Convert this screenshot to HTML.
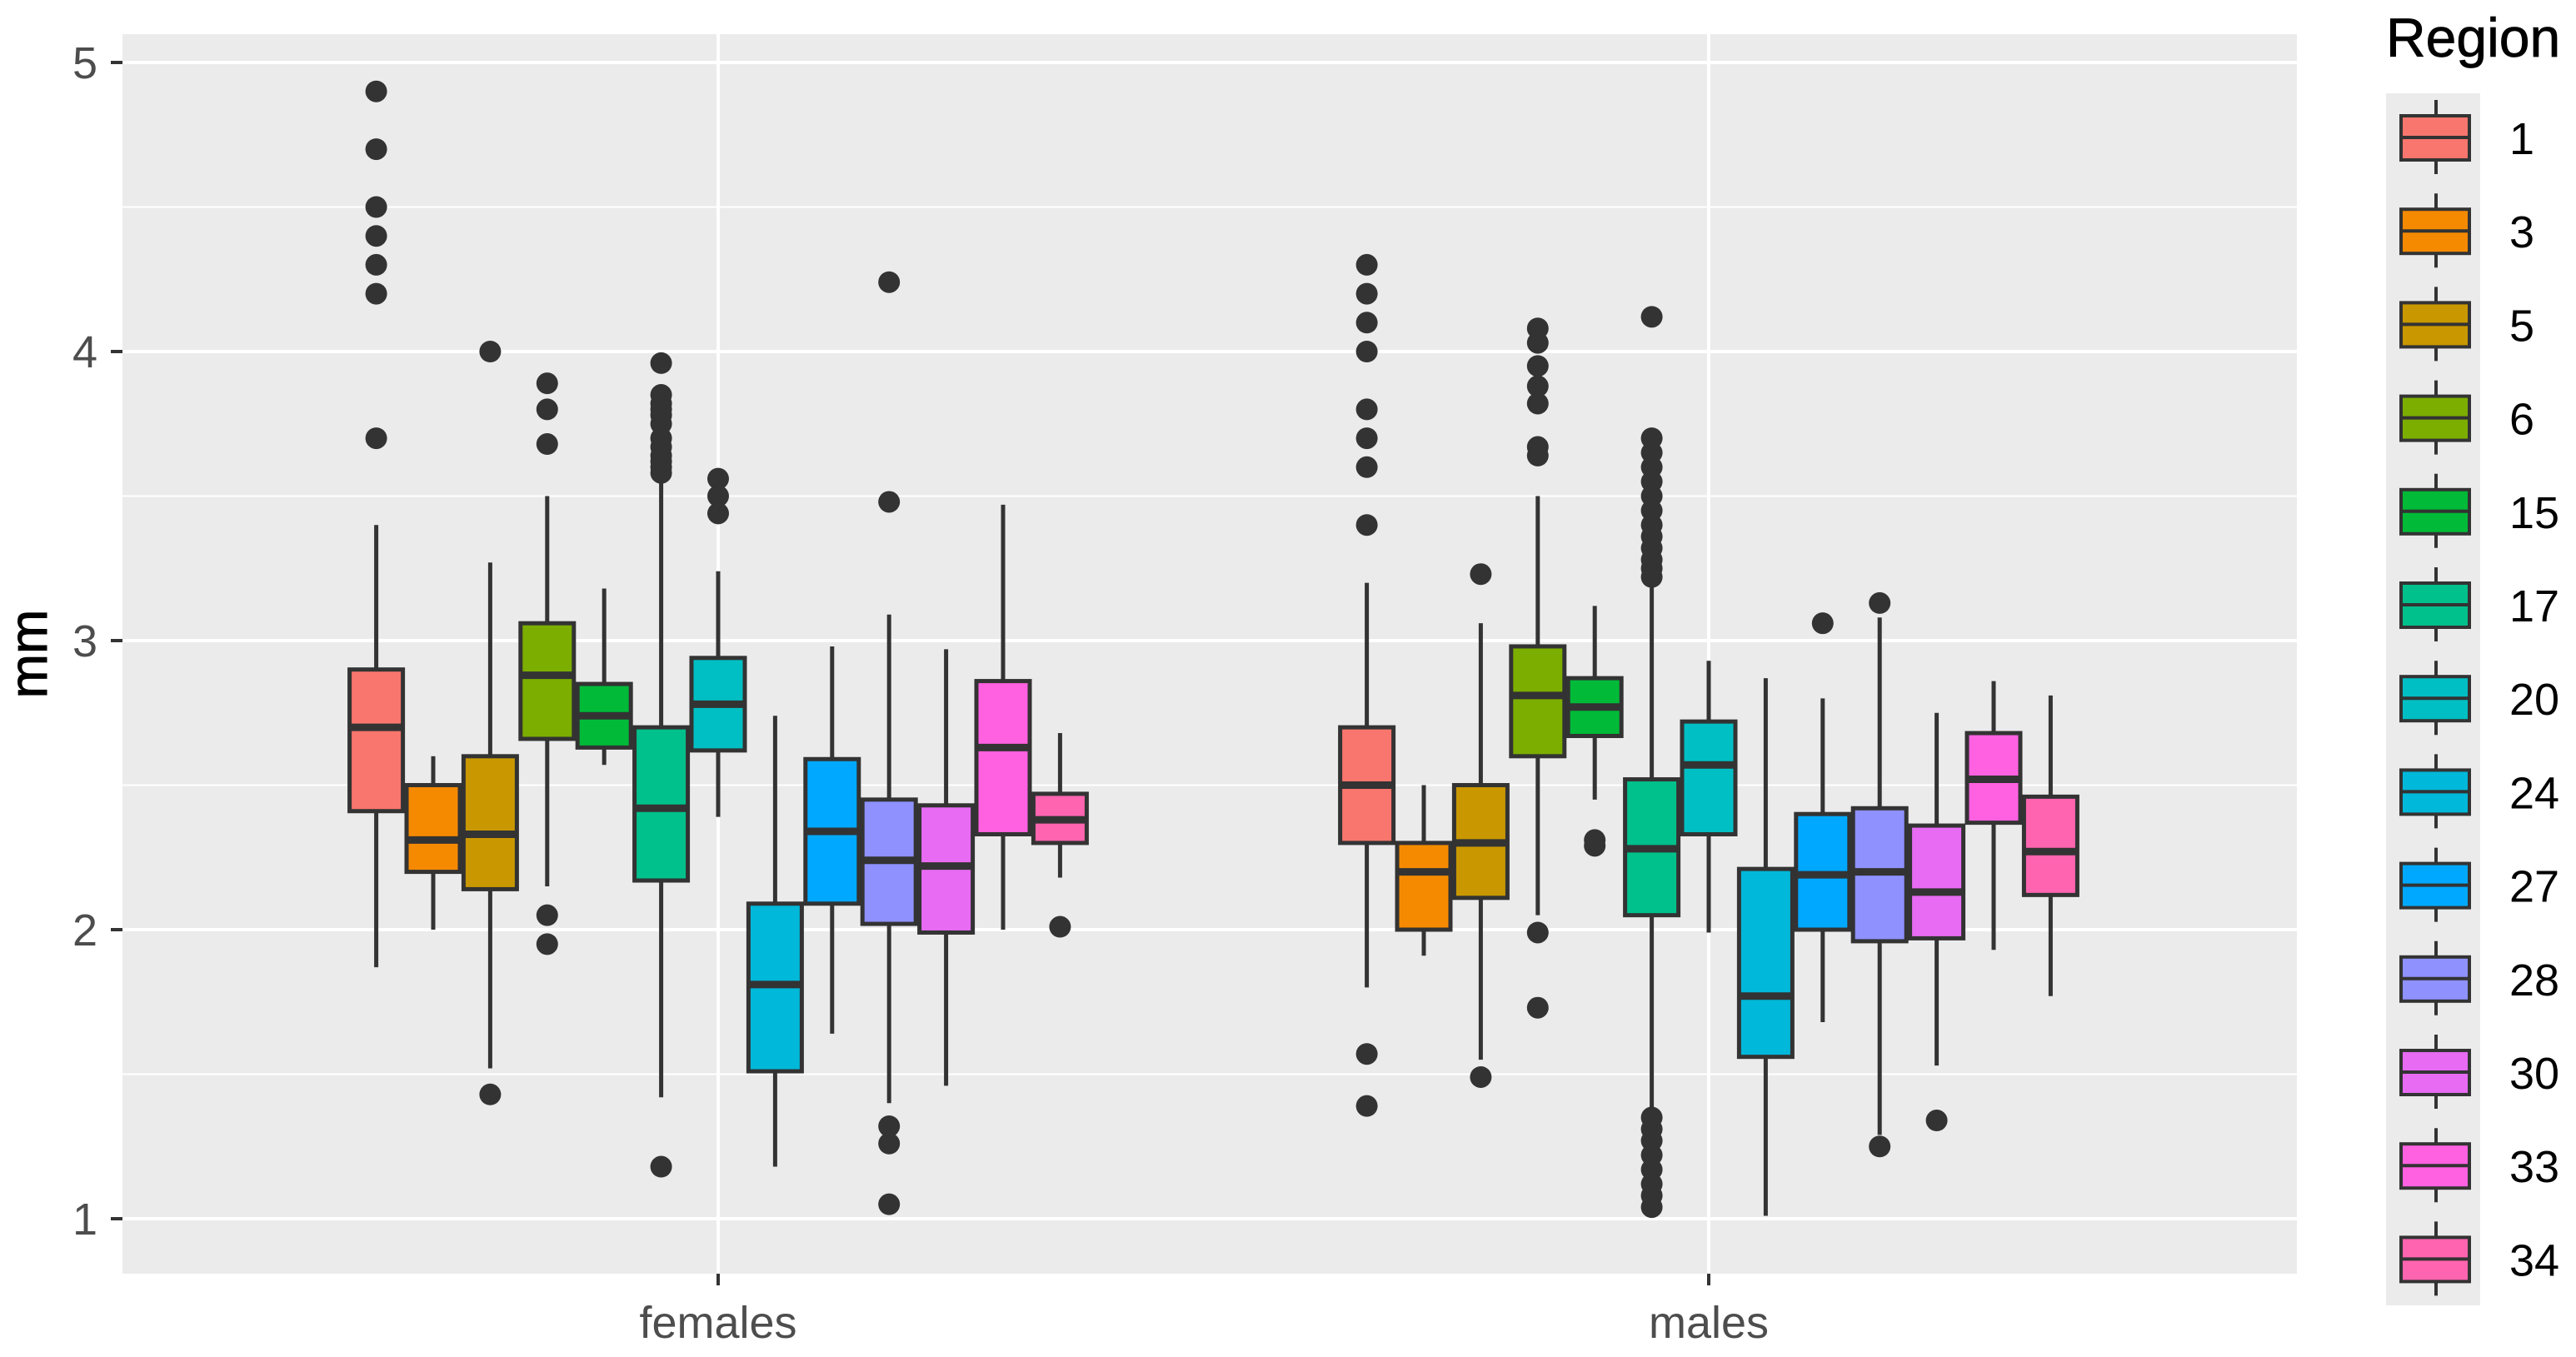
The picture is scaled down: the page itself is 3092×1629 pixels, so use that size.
<!DOCTYPE html>
<html><head><meta charset="utf-8"><style>
html,body{margin:0;padding:0;background:#fff}
svg{display:block}
text{font-family:"Liberation Sans",Arial,sans-serif}
</style></head><body>
<svg id="chart" width="3092" height="1629" viewBox="0 0 3092 1629" xmlns="http://www.w3.org/2000/svg">
<rect x="0" y="0" width="3092" height="1629" fill="#fff"/>
<rect x="147" y="41" width="2610" height="1488" fill="#EBEBEB"/>
<g id="grid"></g>
<g id="boxes"></g>
<g id="axes"></g>
<text x="56" y="785" font-size="64" fill="#000" stroke="#000" stroke-width="1" text-anchor="middle" transform="rotate(-90 56 785)">mm</text>
<text x="2864" y="68" font-size="66" fill="#000" stroke="#000" stroke-width="0.8">Region</text>
<rect x="2864" y="112" width="113" height="1455" fill="#EBEBEB"/>
<g id="legend"></g>
</svg>
<script>
const groups = ["females","males"];
const regions = ["1","3","5","6","15","17","20","24","27","28","30","33","34"];
const colors = ["#F8766D","#F58A00","#C99800","#7CAE00","#00BA38","#00C08B","#00BFC4","#00B8D9","#00A9FF","#8F91FF","#E76BF3","#FF61E0","#FF64B0"];
// [lowerWhisker, Q1, median, Q3, upperWhisker]
const femalesStats = [
 [1.87,2.41,2.70,2.90,3.40],[2.00,2.20,2.31,2.50,2.60],[1.52,2.14,2.33,2.60,3.27],
 [2.15,2.66,2.88,3.06,3.50],[2.57,2.63,2.74,2.85,3.18],[1.42,2.17,2.42,2.70,3.55],
 [2.39,2.62,2.78,2.94,3.24],[1.18,1.51,1.81,2.09,2.74],[1.64,2.09,2.34,2.59,2.98],
 [1.40,2.02,2.24,2.45,3.09],[1.46,1.99,2.22,2.43,2.97],[2.00,2.33,2.63,2.86,3.47],
 [2.18,2.30,2.38,2.47,2.68]];
const malesStats = [
 [1.80,2.30,2.50,2.70,3.20],[1.91,2.00,2.20,2.30,2.50],[1.55,2.11,2.30,2.50,3.06],
 [2.05,2.60,2.81,2.98,3.50],[2.45,2.67,2.77,2.87,3.12],[1.38,2.05,2.28,2.52,3.20],
 [1.99,2.33,2.57,2.72,2.93],[1.01,1.56,1.77,2.21,2.87],[1.68,2.00,2.19,2.40,2.80],
 [1.29,1.96,2.20,2.42,3.08],[1.53,1.97,2.13,2.36,2.75],[1.93,2.37,2.52,2.68,2.86],
 [1.77,2.12,2.27,2.46,2.81]];
const femalesOutliers = [
 [4.9,4.7,4.5,4.4,4.3,4.2,3.7],[],[4.0,1.43],[3.89,3.8,3.68,2.05,1.95],[],
 [3.96,3.85,3.82,3.80,3.78,3.75,3.70,3.67,3.64,3.62,3.60,3.58,1.18],[3.56,3.5,3.44],[],[],
 [4.24,3.48,1.32,1.26,1.05],[],[],[2.01]];
const malesOutliers = [
 [4.3,4.2,4.1,4.0,3.8,3.7,3.6,3.4,1.57,1.39],[],[3.23,1.49],
 [4.08,4.03,3.95,3.88,3.82,3.67,3.64,1.99,1.73],[2.31,2.29],
 [4.12,3.70,3.65,3.60,3.55,3.50,3.45,3.40,3.36,3.32,3.28,3.25,3.22,1.35,1.31,1.27,1.22,1.17,1.12,1.08,1.04],
 [],[],[3.06],[3.13,1.25],[1.34],[],[]];
const yTicks = [1,2,3,4,5];

const NS="http://www.w3.org/2000/svg";
function mk(tag, attrs, parent){const e=document.createElementNS(NS,tag);for(const k in attrs)e.setAttribute(k,attrs[k]);parent.appendChild(e);return e;}
const y = v => 1463 - (v-1)*347;
const groupX = [862, 2051];
const slot = 68.4, bw = 64;
const xPos = (g,i) => groupX[g] + (i-(regions.length-1)/2)*slot;

const grid=document.getElementById('grid');
for(let v=1.5; v<=4.5; v+=1){const l=mk('line',{x1:147,x2:2757,y1:y(v),y2:y(v),stroke:'#fff','stroke-width':2},grid);

}
yTicks.forEach(v=>{const l=mk('line',{x1:147,x2:2757,y1:y(v),y2:y(v),stroke:'#fff','stroke-width':4},grid);

});
groupX.forEach(gx=>{const l=mk('line',{x1:gx,x2:gx,y1:41,y2:1529,stroke:'#fff','stroke-width':4},grid);

});

const axes=document.getElementById('axes');
yTicks.forEach(v=>{
 const t=mk('line',{x1:133,x2:147,y1:y(v),y2:y(v),stroke:'#333','stroke-width':4},axes);
 
 
 const tx=mk('text',{x:117,y:y(v)+19,'font-size':54,fill:'#4D4D4D','text-anchor':'end'},axes);
 tx.textContent=v;
 
 
});
groups.forEach((g,gi)=>{
 const t=mk('line',{x1:groupX[gi],x2:groupX[gi],y1:1529,y2:1543,stroke:'#333','stroke-width':4},axes);
 
 
 const tx=mk('text',{x:groupX[gi],y:1606,'font-size':54,fill:'#4D4D4D','text-anchor':'middle'},axes);
 tx.textContent=g;
 
 
});

const boxes=document.getElementById('boxes');
[femalesStats,malesStats].forEach((stats,gi)=>{
 const outs=[femalesOutliers,malesOutliers][gi];
 stats.forEach((s,i)=>{
  const cx=xPos(gi,i);
  const g=mk('g',{},boxes);
  
  
  mk('line',{x1:cx,x2:cx,y1:y(s[4]),y2:y(s[3]),stroke:'#333','stroke-width':5},g);
  mk('line',{x1:cx,x2:cx,y1:y(s[1]),y2:y(s[0]),stroke:'#333','stroke-width':5},g);
  mk('rect',{x:cx-bw/2,y:y(s[3]),width:bw,height:y(s[1])-y(s[3]),fill:colors[i],stroke:'#333','stroke-width':5},g);
  mk('line',{x1:cx-bw/2,x2:cx+bw/2,y1:y(s[2]),y2:y(s[2]),stroke:'#333','stroke-width':9},g);
  outs[i].forEach(o=>{
   const c=mk('circle',{cx:cx,cy:y(o),r:13,fill:'#333'},g);
   
   
  });
 });
});

const legend=document.getElementById('legend');
regions.forEach((r,i)=>{
 const cy=165+i*112.2, cx=2924;
 const g=mk('g',{},legend);
 
 
 mk('line',{x1:cx,x2:cx,y1:cy-45,y2:cy+44,stroke:'#333','stroke-width':4},g);
 mk('rect',{x:2882,y:cy-26,width:82,height:53,fill:colors[i],stroke:'#333','stroke-width':4},g);
 mk('line',{x1:2882,x2:2964,y1:cy,y2:cy,stroke:'#333','stroke-width':4},g);
 const t=mk('text',{x:3012,y:cy+20,'font-size':54,fill:'#000'},g);
 t.textContent=r;
});
</script>
</body></html>
